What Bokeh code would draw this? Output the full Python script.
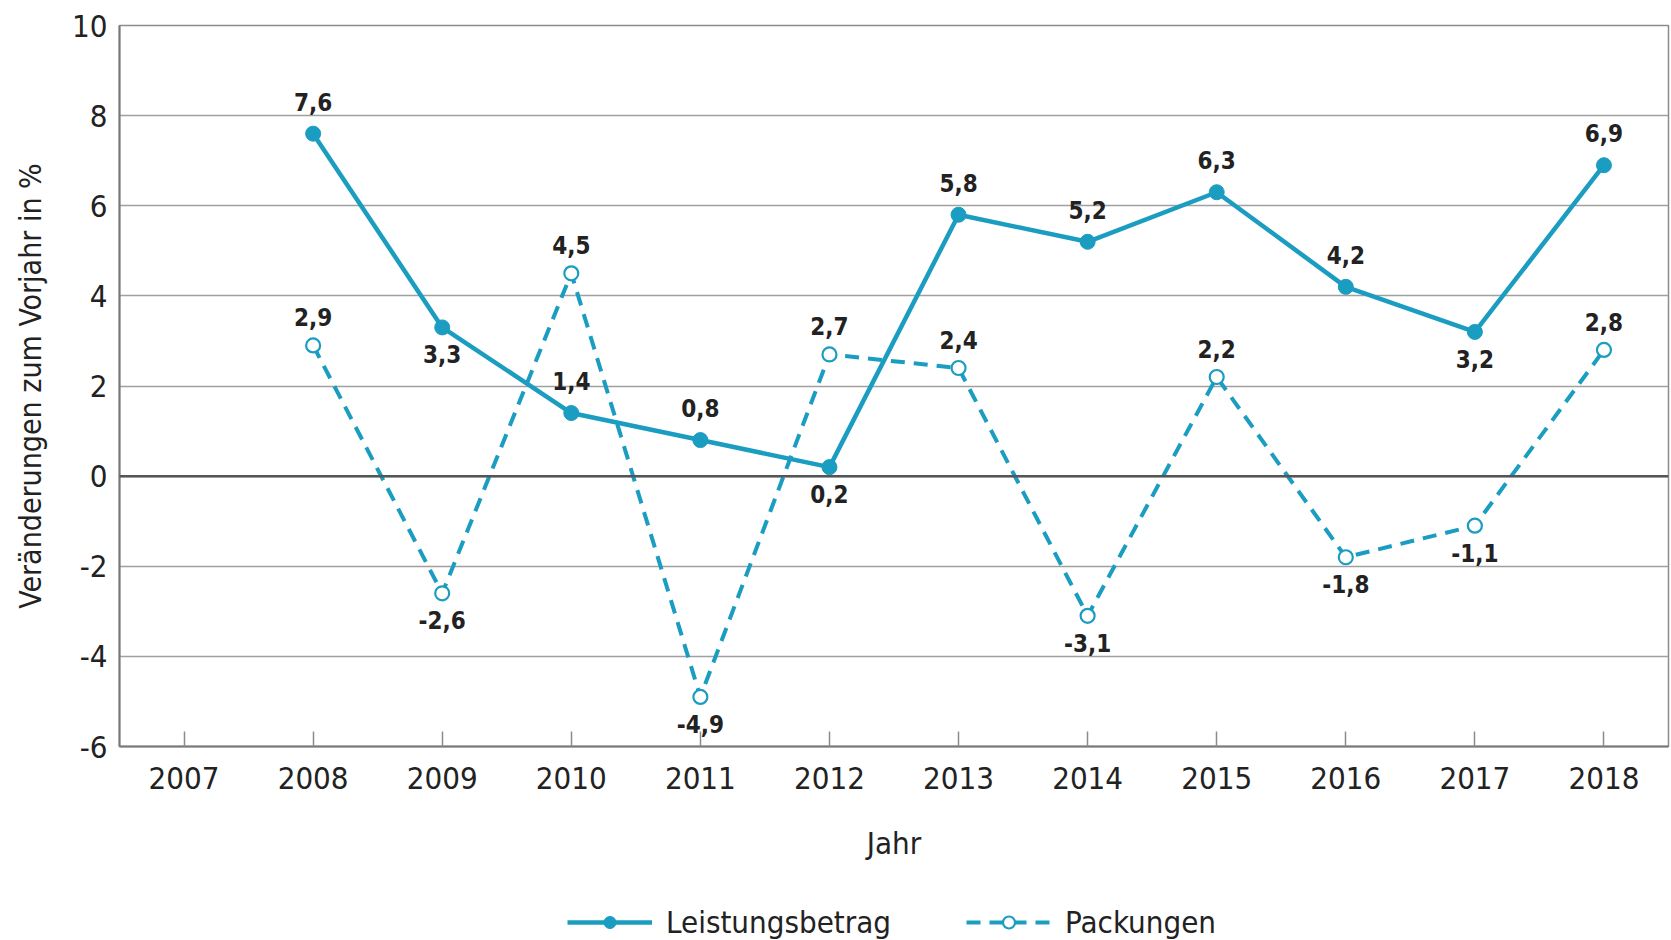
from bokeh.plotting import figure
from bokeh.layouts import column
from bokeh.models import (Range1d, FixedTicker, ColumnDataSource, Legend, LegendItem, Span)
from bokeh.core.properties import value
from bokeh.embed import file_html
from bokeh.resources import INLINE

years = [2008, 2009, 2010, 2011, 2012, 2013, 2014, 2015, 2016, 2017, 2018]
leistungsbetrag = [7.6, 3.3, 1.4, 0.8, 0.2, 5.8, 5.2, 6.3, 4.2, 3.2, 6.9]
packungen = [2.9, -2.6, 4.5, -4.9, 2.7, 2.4, -3.1, 2.2, -1.8, -1.1, 2.8]
# label placement: 1 = above the point, -1 = below
leistung_side = [1, -1, 1, 1, -1, 1, 1, 1, 1, -1, 1]
packung_side = [1, -1, 1, -1, 1, 1, -1, 1, -1, -1, 1]
x_ticks = list(range(2007, 2019))
y_ticks = [-6, -4, -2, 0, 2, 4, 6, 8, 10]
series_names = ["Leistungsbetrag", "Packungen"]

FONT = "DejaVu Sans Condensed"
TEAL = "#1a9dc0"
TXT = "#222222"

p = figure(width=1671, height=880, output_backend="svg", toolbar_location=None,
           x_range=Range1d(2006.5, 2018.5), y_range=Range1d(-6, 10),
           min_border_left=119, min_border_top=25, min_border_right=3, min_border_bottom=134)

p.background_fill_color = "white"
p.border_fill_color = "white"
p.outline_line_color = "#8c8c8c"
p.outline_line_width = 1.5

p.xgrid.grid_line_color = None
p.ygrid.ticker = FixedTicker(ticks=y_ticks)
p.ygrid.grid_line_color = "#a0a0a0"
p.ygrid.grid_line_width = 1.5

xa = p.xaxis[0]
xa.ticker = FixedTicker(ticks=x_ticks)
xa.major_tick_in = 15
xa.major_tick_out = 0
xa.minor_tick_line_color = None
xa.major_tick_line_color = "#8c8c8c"
xa.major_tick_line_width = 1.5
xa.axis_line_color = "#777777"
xa.axis_line_width = 2
xa.major_label_text_font = FONT
xa.major_label_text_font_size = "31px"
xa.major_label_text_color = TXT
xa.major_label_standoff = 20
xa.axis_label = "Jahr"
xa.axis_label_text_font = FONT
xa.axis_label_text_font_size = "31px"
xa.axis_label_text_font_style = "normal"
xa.axis_label_text_color = TXT
xa.axis_label_standoff = 33

ya = p.yaxis[0]
ya.ticker = FixedTicker(ticks=y_ticks)
ya.major_label_overrides = {t: str(t) for t in y_ticks}
ya.major_tick_in = 0
ya.major_tick_out = 0
ya.minor_tick_line_color = None
ya.axis_line_color = "#777777"
ya.axis_line_width = 2
ya.major_label_text_font = FONT
ya.major_label_text_font_size = "31px"
ya.major_label_text_color = TXT
ya.major_label_standoff = 12
ya.axis_label = "Veränderungen zum Vorjahr in %"
ya.axis_label_text_font = FONT
ya.axis_label_text_font_size = "30px"
ya.axis_label_text_font_style = "normal"
ya.axis_label_text_color = TXT
ya.axis_label_standoff = 21

p.add_layout(Span(location=0, dimension="width", line_color="#555555", line_width=2.5))

def fmt(v):
    return f"{v:.1f}".replace(".", ",")

src_l = ColumnDataSource(dict(x=years, y=leistungsbetrag,
                              lab=[fmt(v) for v in leistungsbetrag],
                              off=[-23 if s > 0 else 18 for s in leistung_side],
                              base=["bottom" if s > 0 else "top" for s in leistung_side]))
src_p = ColumnDataSource(dict(x=years, y=packungen,
                              lab=[fmt(v) for v in packungen],
                              off=[-19 if s > 0 else 18 for s in packung_side],
                              base=["bottom" if s > 0 else "top" for s in packung_side]))

line_l = dict(line_color=TEAL, line_width=4.5)
line_p = dict(line_color=TEAL, line_width=4, line_dash="14 9")
mark_l = dict(size=15, marker="circle", fill_color=TEAL, line_color=TEAL)
mark_p = dict(size=14, marker="circle", fill_color="white", line_color=TEAL, line_width=2.2)

p.line("x", "y", source=src_p, **line_p)
p.scatter("x", "y", source=src_p, **mark_p)
p.line("x", "y", source=src_l, **line_l)
p.scatter("x", "y", source=src_l, **mark_l)

for src in (src_l, src_p):
    p.text("x", "y", text="lab", source=src, y_offset="off", text_baseline="base",
           text_align="center", text_font=value(FONT), text_font_size="24px",
           text_font_style="bold", text_color=TXT)

# legend strip below the chart (its frame is aligned with the chart's frame)
lg = figure(width=1671, height=60, output_backend="svg", toolbar_location=None,
            x_range=Range1d(0, 1), y_range=Range1d(0, 1),
            min_border_left=119, min_border_right=3, min_border_top=0, min_border_bottom=0)
lg.axis.visible = False
lg.grid.visible = False
lg.outline_line_color = None
nan = float("nan")
hidden = ColumnDataSource(dict(x=[nan], y=[nan]))
g_ll = lg.line("x", "y", source=hidden, **line_l)
g_ls = lg.scatter("x", "y", source=hidden, **mark_l)
g_pl = lg.line("x", "y", source=hidden, **line_p)
g_ps = lg.scatter("x", "y", source=hidden, **mark_p)
legend = Legend(items=[LegendItem(label=series_names[0], renderers=[g_ll, g_ls]),
                       LegendItem(label=series_names[1], renderers=[g_pl, g_ps])],
                orientation="horizontal", location=(448, 0),
                label_text_font=FONT, label_text_font_size="31px", label_text_color=TXT,
                glyph_width=85, glyph_height=30, spacing=75, padding=0, margin=0,
                border_line_color=None, background_fill_alpha=0, label_standoff=14)
lg.add_layout(legend, "center")

open("out.html", "w").write(file_html(column(p, lg, spacing=0), INLINE))
